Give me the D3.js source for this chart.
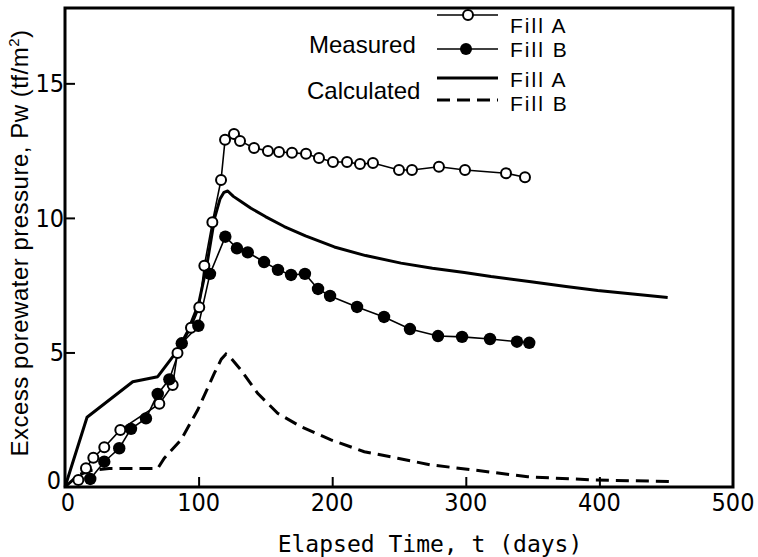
<!DOCTYPE html>
<html>
<head>
<meta charset="utf-8">
<script src="https://cdn.jsdelivr.net/npm/d3@7"></script>
<style>
  body { margin: 0; background: #fff; }
  svg { display: block; }
</style>
</head>
<body>
<svg id="chart" width="758" height="557"></svg>
<script>
// Measured, Fill A (open circles): [days, tf/m2]
const measuredA = [
    [10, 0.26], [15.7, 0.70], [21.2, 1.09], [29.4, 1.48], [41.4, 2.12],
    [70.6, 3.09], [80.6, 3.79], [84.2, 4.98], [94.3, 5.92], [100.5, 6.68],
    [104.3, 8.22], [110.3, 9.84], [116.8, 11.41], [119.8, 12.9], [126.5, 13.12],
    [131, 12.86], [141.5, 12.6], [151.9, 12.49], [160.2, 12.45], [169.9, 12.42],
    [180.4, 12.38], [190.1, 12.23], [200.6, 12.08], [211.1, 12.08], [220.8, 12.0],
    [230.5, 12.04], [250, 11.78], [259.7, 11.78], [279.9, 11.9], [299.4, 11.78],
    [330.1, 11.66], [344.3, 11.51]
];

// Measured, Fill B (filled circles)
const measuredB = [
    [18.9, 0.30], [29.4, 0.94], [40.6, 1.44], [49.4, 2.16], [60.6, 2.55],
    [69.4, 3.46], [78.1, 4.0], [87.4, 5.34], [99.8, 5.99], [108.5, 7.92],
    [120, 9.30], [128.7, 8.87], [136.8, 8.72], [149, 8.36], [159.4, 8.07],
    [169.2, 7.88], [179.6, 7.92], [189.4, 7.36], [198.4, 7.10], [218.6, 6.69],
    [238.8, 6.32], [258.2, 5.87], [279.2, 5.61], [297.2, 5.58], [318.1, 5.50],
    [338.3, 5.40], [347.5, 5.36]
];

// Calculated, Fill A (solid line)
const calcA = [
    [0, 0], [16.5, 2.59], [50.7, 3.91], [69.4, 4.10], [84.4, 5.09], [92, 5.8],
    [100, 6.8], [106, 8.2], [112, 10.0], [116, 10.7], [119, 10.95], [121.8, 11.0],
    [126, 10.8], [132, 10.6], [139.2, 10.36], [150, 10.05], [164.1, 9.68],
    [180, 9.33], [201.6, 8.92], [225, 8.6], [251.5, 8.32], [275, 8.13],
    [298.9, 7.97], [318.9, 7.82], [348.8, 7.63], [375, 7.45], [398.7, 7.30],
    [425, 7.17], [451.1, 7.04]
];

// Calculated, Fill B (dashed line)
const calcB = [
    [0, 0], [10, 0.45], [20, 0.62], [33, 0.69], [69.4, 0.69], [74.3, 1.07],
    [86.8, 1.75], [99.3, 2.86], [111.8, 4.23], [117, 4.75], [120.5, 4.94], [124, 4.8],
    [131.7, 4.35], [144.2, 3.48], [159.2, 2.74], [176.6, 2.24], [199.1, 1.75],
    [224, 1.31], [249, 1.07], [273.9, 0.82], [306.4, 0.63], [346.3, 0.38],
    [396.2, 0.26], [456.1, 0.20]
];

const xTicks = [0, 100, 200, 300, 400, 500];
const yTicks = [0, 5, 10, 15];

const svg = d3.select("#chart");

const x = d3.scaleLinear().domain([0, 500]).range([65, 733]);
const y = d3.scaleLinear().domain([0, 17.8]).range([487, 8]);

const tickFont = "'Liberation Sans Narrow', 'DejaVu Sans Condensed', sans-serif";

// Frame
svg.append("rect")
    .attr("x", x(0)).attr("y", y(17.8))
    .attr("width", x(500) - x(0)).attr("height", y(0) - y(17.8))
    .attr("fill", "none").attr("stroke", "#000").attr("stroke-width", 3);

// X axis (ticks pointing inward)
const xAxis = svg.append("g")
    .attr("transform", `translate(0, ${y(0)})`)
    .call(d3.axisTop(x).tickValues(xTicks.slice(1, -1)).tickSize(10).tickFormat(""));
xAxis.select(".domain").remove();
xAxis.selectAll("line").attr("stroke-width", 2);

svg.append("g").selectAll("text")
    .data(xTicks)
    .join("text")
    .attr("x", d => x(d) + (d === 0 ? 3 : 0))
    .attr("y", 511)
    .attr("text-anchor", "middle")
    .attr("font-family", tickFont)
    .attr("font-size", 25)
    .text(d => d);

// Y axis (ticks pointing inward)
const yAxis = svg.append("g")
    .attr("transform", `translate(${x(0)}, 0)`)
    .call(d3.axisRight(y).tickValues(yTicks.slice(1)).tickSize(10).tickFormat(""));
yAxis.select(".domain").remove();
yAxis.selectAll("line").attr("stroke-width", 2);

svg.append("g").selectAll("text")
    .data(yTicks)
    .join("text")
    .attr("x", d => x(0) - (d === 0 ? 4 : 1))
    .attr("y", d => y(d) + (d === 0 ? 2 : 9))
    .attr("text-anchor", "end")
    .attr("font-family", tickFont)
    .attr("font-size", 25)
    .text(d => d);

// Axis titles
const yTitle = svg.append("text")
    .attr("transform", "translate(28, 243) rotate(-90)")
    .attr("text-anchor", "middle")
    .attr("font-family", "'Liberation Sans', Arial, sans-serif")
    .attr("font-size", 24)
    .attr("letter-spacing", 0.5);
yTitle.append("tspan").text("Excess porewater pressure, Pw (tf/m");
yTitle.append("tspan").attr("font-size", 15).attr("dy", -9).text("2");
yTitle.append("tspan").attr("dy", 9).text(")");

svg.append("text")
    .attr("x", 430).attr("y", 552)
    .attr("text-anchor", "middle")
    .attr("font-family", "'DejaVu Sans Mono', monospace")
    .attr("font-size", 23)
    .text("Elapsed Time, t (days)");

// Lines
const line = d3.line().x(d => x(d[0])).y(d => y(d[1]));

svg.append("path").datum(calcA)
    .attr("d", line)
    .attr("fill", "none").attr("stroke", "#000").attr("stroke-width", 3)
    .attr("stroke-linejoin", "round");

svg.append("path").datum(calcB)
    .attr("d", line)
    .attr("fill", "none").attr("stroke", "#000").attr("stroke-width", 3)
    .attr("stroke-dasharray", "13,7");

svg.append("path").datum(measuredA)
    .attr("d", line)
    .attr("fill", "none").attr("stroke", "#000").attr("stroke-width", 1.6);

svg.append("path").datum(measuredB)
    .attr("d", line)
    .attr("fill", "none").attr("stroke", "#000").attr("stroke-width", 1.6);

svg.append("g").selectAll("circle")
    .data(measuredA)
    .join("circle")
    .attr("cx", d => x(d[0])).attr("cy", d => y(d[1]))
    .attr("r", 5)
    .attr("fill", "#fff").attr("stroke", "#000").attr("stroke-width", 2);

svg.append("g").selectAll("circle")
    .data(measuredB)
    .join("circle")
    .attr("cx", d => x(d[0])).attr("cy", d => y(d[1]))
    .attr("r", 6.2)
    .attr("fill", "#000");

// Legend
const legend = svg.append("g")
    .attr("font-family", "'Liberation Sans', Arial, sans-serif")
    .attr("font-size", 24);

legend.append("text").attr("x", 309).attr("y", 53).text("Measured");
legend.append("text").attr("x", 307).attr("y", 99).text("Calculated");

const legendRows = [
    {label: "Fill A", y: 15, ty: 33, marker: "open"},
    {label: "Fill B", y: 49, ty: 57, marker: "filled"},
    {label: "Fill A", y: 78, ty: 87, marker: "solid"},
    {label: "Fill B", y: 100, ty: 111, marker: "dashed"}
];

legendRows.forEach(r => {
    legend.append("line")
        .attr("x1", 437).attr("x2", 498).attr("y1", r.y).attr("y2", r.y)
        .attr("stroke", "#000")
        .attr("stroke-width", r.marker === "open" || r.marker === "filled" ? 1.6 : 3)
        .attr("stroke-dasharray", r.marker === "dashed" ? "13,7" : null);
    if (r.marker === "open") {
        legend.append("circle").attr("cx", 468).attr("cy", r.y).attr("r", 5)
            .attr("fill", "#fff").attr("stroke", "#000").attr("stroke-width", 2);
    }
    if (r.marker === "filled") {
        legend.append("circle").attr("cx", 466).attr("cy", r.y).attr("r", 6)
            .attr("fill", "#000");
    }
    legend.append("text").attr("x", 510).attr("y", r.ty)
        .attr("font-size", 21)
        .attr("letter-spacing", 2).text(r.label);
});
</script>
</body>
</html>
